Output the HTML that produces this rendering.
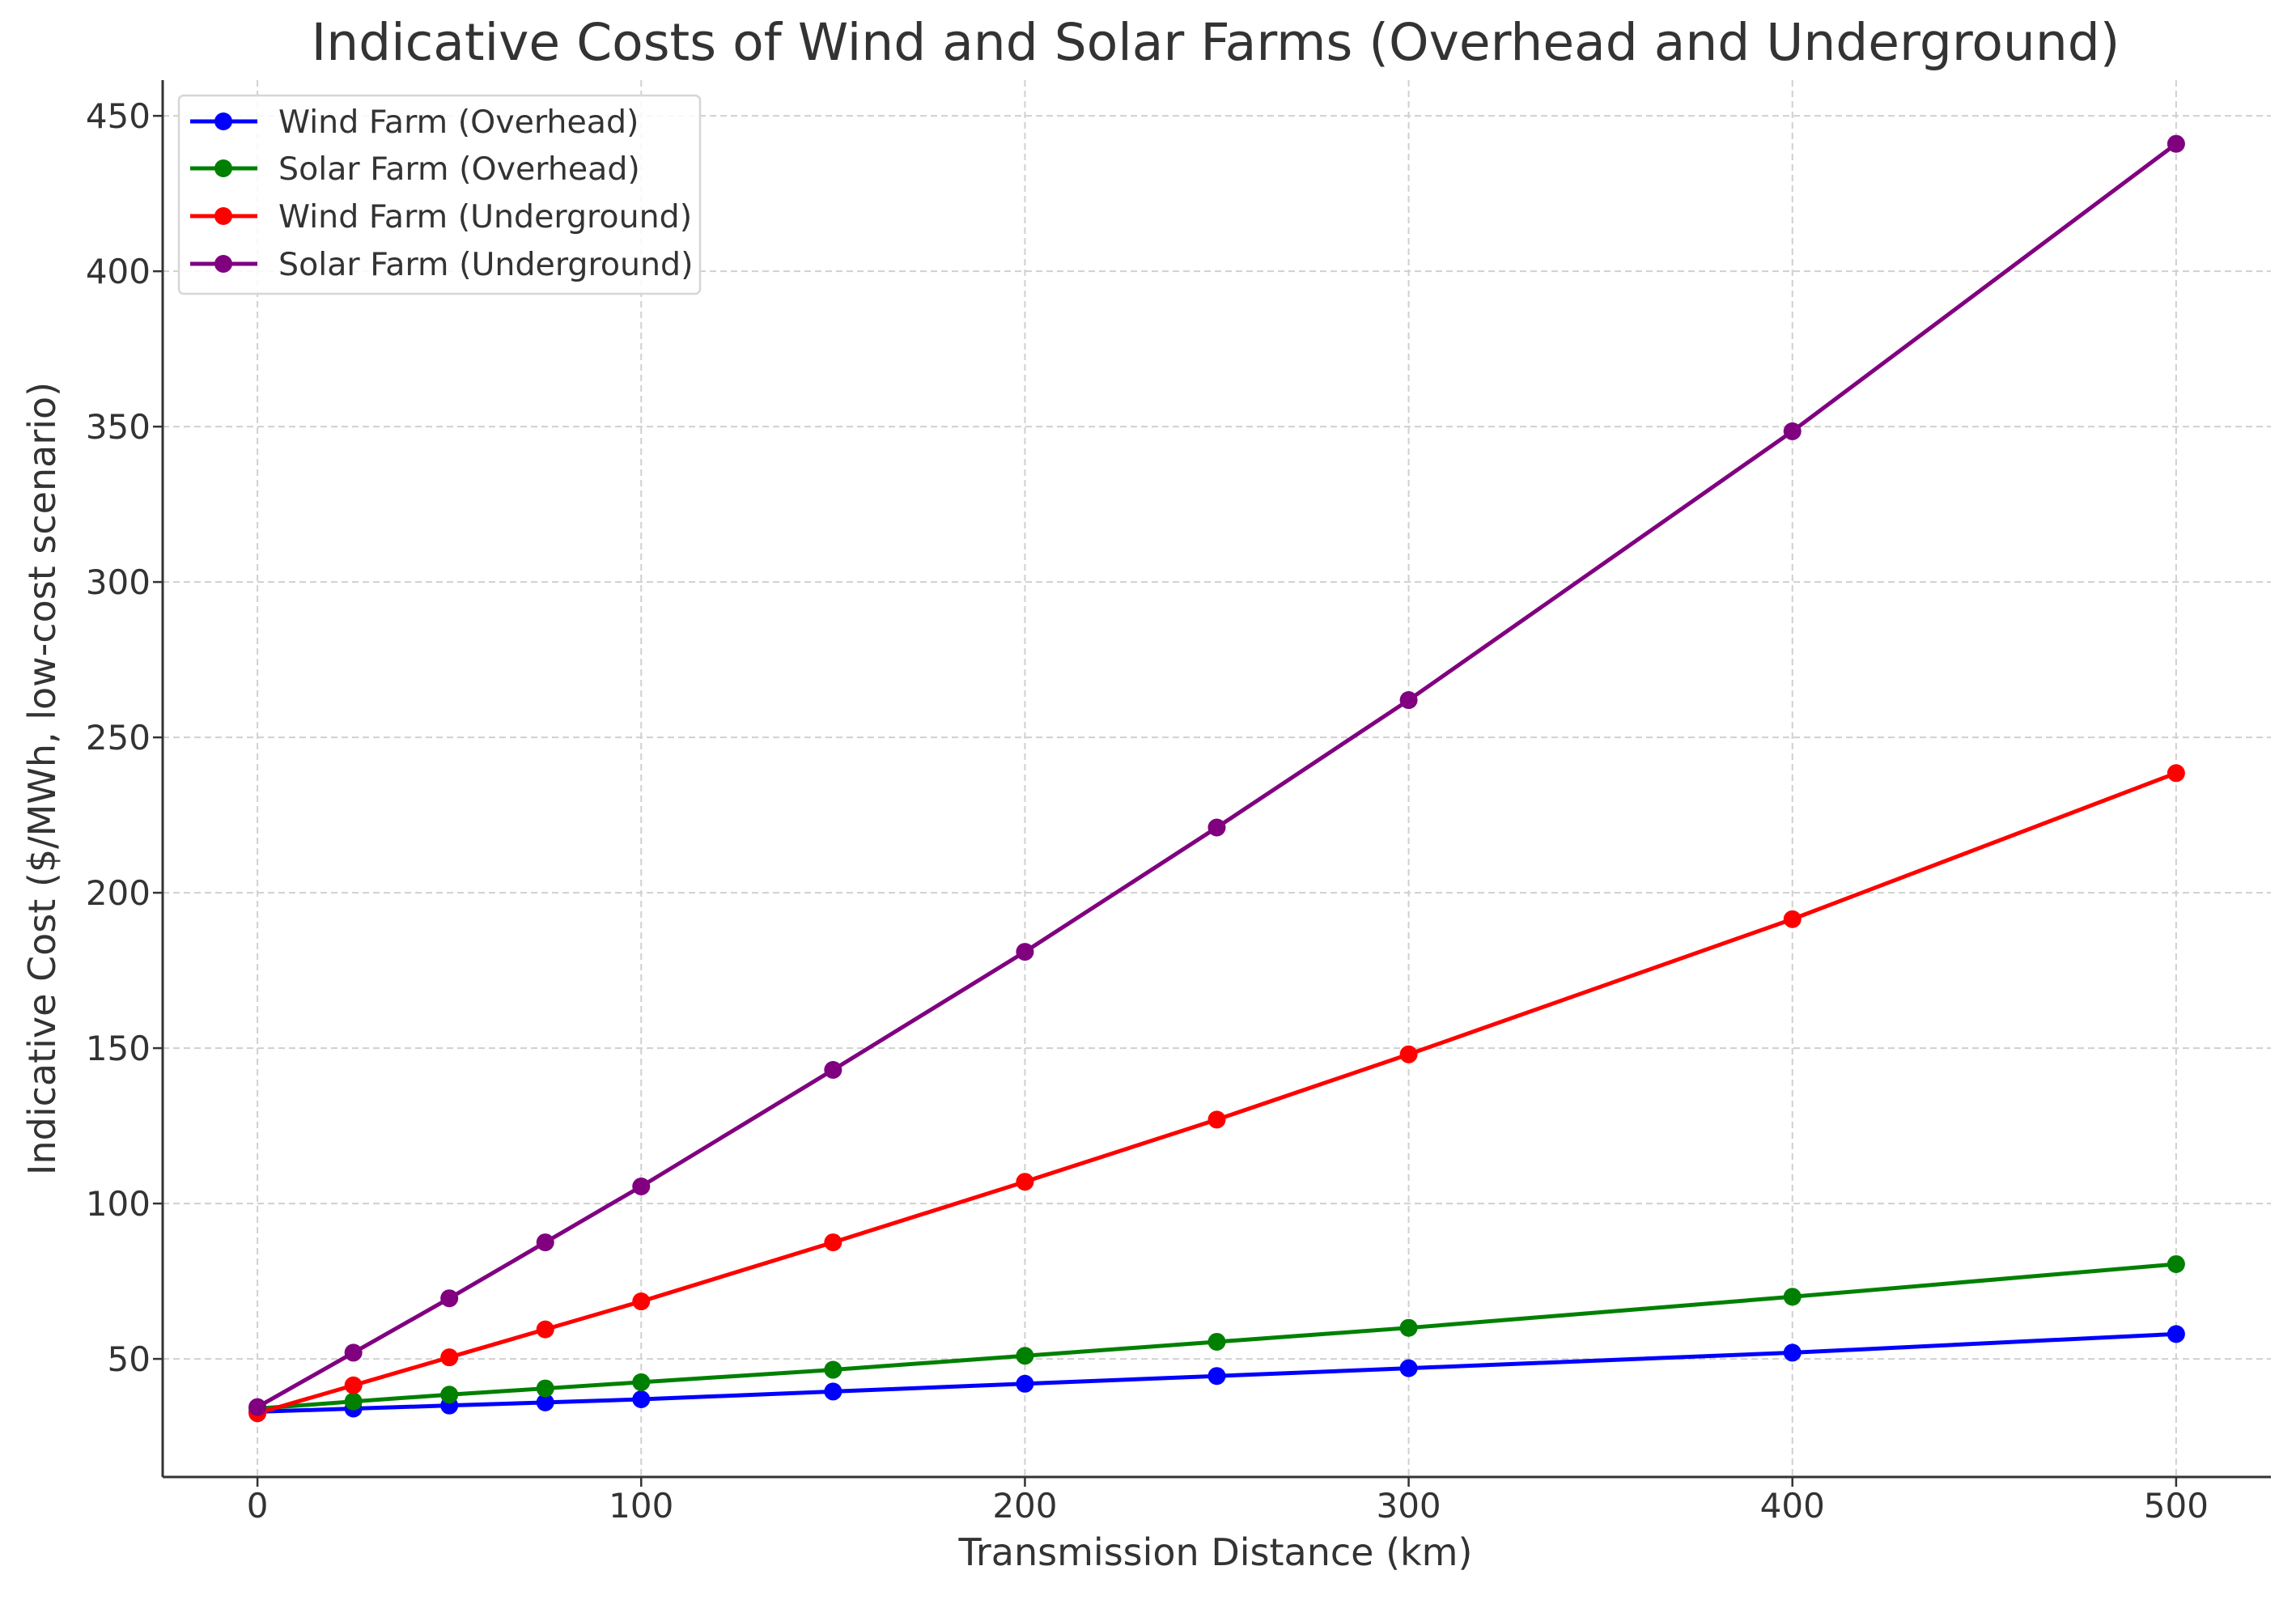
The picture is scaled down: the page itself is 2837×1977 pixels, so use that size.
<!DOCTYPE html>
<html><head><meta charset="utf-8">
<style>
html,body{margin:0;padding:0;background:#fff;}
svg{display:block;font-family:"DejaVu Sans","Liberation Sans",sans-serif;}
</style></head>
<body>
<svg id="chart" width="2837" height="1977" viewBox="0 0 2837 1977" xmlns="http://www.w3.org/2000/svg">
<rect width="2837" height="1977" fill="#fff"/>
<text x="1502" y="74" font-size="63" fill="#333" text-anchor="middle">Indicative Costs of Wind and Solar Farms (Overhead and Underground)</text>
<g id="grid"></g>
<g id="series"></g>
<g id="axes"></g>
<text x="1502" y="1934" font-size="46" fill="#333" text-anchor="middle">Transmission Distance (km)</text>
<text transform="translate(68,962) rotate(-90)" font-size="46" fill="#333" text-anchor="middle">Indicative Cost ($/MWh, low-cost scenario)</text>
<g id="legend"></g>
</svg>
<script>
const distances = [0,25,50,75,100,150,200,250,300,400,500];
const windOverhead = [33,34,35,36,37,39.5,42,44.5,47,52,58];
const solarOverhead = [34,36.3,38.5,40.5,42.5,46.5,51,55.5,60,70,80.5];
const windUnderground = [32.5,41.5,50.5,59.5,68.5,87.5,107,127,148,191.5,238.5];
const solarUnderground = [34.5,52,69.5,87.5,105.5,143,181,221,262,348.5,441];
const xTicks = [0,100,200,300,400,500];
const yTicks = [50,100,150,200,250,300,350,400,450];
const seriesNames = ["Wind Farm (Overhead)","Solar Farm (Overhead)","Wind Farm (Underground)","Solar Farm (Underground)"];

const NS="http://www.w3.org/2000/svg";
const L=201,R=2806,T=99,B=1825;
const xMin=-24.7,xMax=524.7,yMin=12,yMax=461.5;
function xs(v){return L+(v-xMin)/(xMax-xMin)*(R-L);}
function ys(v){return B-(v-yMin)/(yMax-yMin)*(B-T);}
function mk(tag,attrs,parent){const e=document.createElementNS(NS,tag);for(const k in attrs)e.setAttribute(k,attrs[k]);parent.appendChild(e);return e;}

const grid=document.getElementById('grid');
const axes=document.getElementById('axes');
xTicks.forEach(t=>{
  const g=mk('line',{x1:xs(t),x2:xs(t),y1:T,y2:B,stroke:'#d0d0d0','stroke-width':2,'stroke-dasharray':'8,5'},grid);
  
  
  const tk=mk('line',{x1:xs(t),x2:xs(t),y1:B,y2:B+12,stroke:'#333','stroke-width':2.5},axes);
  
  
  const lb=mk('text',{x:xs(t),y:1875,'font-size':42,fill:'#333','text-anchor':'middle'},axes);
  lb.textContent=t;
  
  
});
yTicks.forEach(t=>{
  const g=mk('line',{x1:L,x2:R,y1:ys(t),y2:ys(t),stroke:'#d0d0d0','stroke-width':2,'stroke-dasharray':'8,5'},grid);
  
  
  const tk=mk('line',{x1:L-12,x2:L,y1:ys(t),y2:ys(t),stroke:'#333','stroke-width':2.5},axes);
  
  
  const lb=mk('text',{x:186,y:ys(t)+15,'font-size':42,fill:'#333','text-anchor':'end'},axes);
  lb.textContent=t;
  
  
});
const ax1=mk('line',{x1:L,x2:L,y1:T,y2:B,stroke:'#333','stroke-width':3},axes);


const ax2=mk('line',{x1:L,x2:R,y1:B,y2:B,stroke:'#333','stroke-width':3},axes);



const seriesData=[windOverhead,solarOverhead,windUnderground,solarUnderground];
const colors=['#0000ff','#008000','#ff0000','#800080'];
const keys=['wind-overhead','solar-overhead','wind-underground','solar-underground'];
const sg=document.getElementById('series');
seriesData.forEach((vals,i)=>{
  const g=mk('g',{},sg);
  
  
  const pts=vals.map((v,j)=>xs(distances[j])+','+ys(v)).join(' ');
  const pl=mk('polyline',{points:pts,fill:'none',stroke:colors[i],'stroke-width':5,'stroke-linejoin':'round'},g);
  
  
  vals.forEach((v,j)=>{
    const c=mk('circle',{cx:xs(distances[j]),cy:ys(v),r:11,fill:colors[i]},g);
    
    
  });
});

const lg=document.getElementById('legend');
const box=mk('rect',{x:221,y:118,width:644,height:245,rx:6,fill:'#fff','fill-opacity':0.85,stroke:'#d6d6d6','stroke-width':2.5},lg);


const rows=[150,208,267,326];
seriesNames.forEach((n,i)=>{
  const g=mk('g',{},lg);
  
  
  mk('line',{x1:235,x2:318,y1:rows[i],y2:rows[i],stroke:colors[i],'stroke-width':5},g);
  mk('circle',{cx:276,cy:rows[i],r:11,fill:colors[i]},g);
  const t=mk('text',{x:344,y:rows[i]+14,'font-size':39.5,fill:'#333'},g);
  t.textContent=n;
});
</script>
</body></html>
